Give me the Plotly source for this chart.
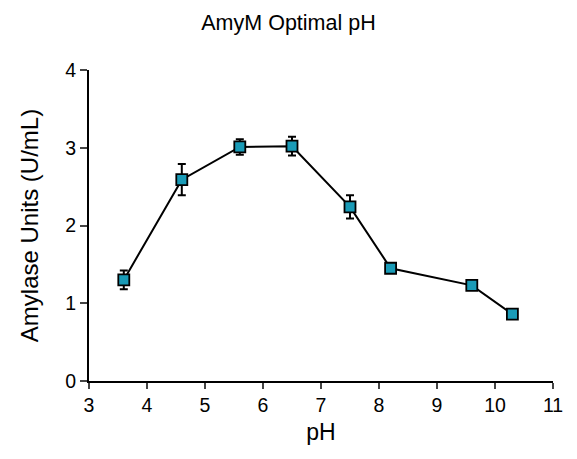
import plotly.graph_objects as go

ph = [3.6, 4.6, 5.6, 6.5, 7.5, 8.2, 9.6, 10.3]
units = [1.30, 2.59, 3.01, 3.02, 2.24, 1.45, 1.23, 0.86]
err = [0.12, 0.20, 0.10, 0.12, 0.15, 0.03, 0.03, 0.05]
x_ticks = [3, 4, 5, 6, 7, 8, 9, 10, 11]
y_ticks = [0, 1, 2, 3, 4]

fig = go.Figure(go.Scatter(
    x=ph, y=units, mode="lines+markers",
    line=dict(color="black", width=2),
    marker=dict(symbol="square", size=11, color="#1A9BB7",
                line=dict(color="black", width=1.8)),
    error_y=dict(type="data", array=err, visible=True, color="black",
                 thickness=2, width=4),
))

font = "Liberation Sans, Arial, sans-serif"
fig.update_layout(
    width=577, height=459,
    margin=dict(l=89, r=24, t=70, b=78),
    paper_bgcolor="white", plot_bgcolor="white",
    font=dict(family=font, color="black"),
    showlegend=False,
    title=dict(text="AmyM Optimal pH", x=0.5, xanchor="center",
               y=0.952, yanchor="middle", font=dict(size=21.5)),
)
fig.update_xaxes(
    range=[3, 11], tickvals=x_ticks, ticks="outside", ticklen=6, tickwidth=2,
    showline=True, linecolor="black", linewidth=2, showgrid=False, zeroline=False,
    tickfont=dict(size=19.5), title=dict(text="pH", font=dict(size=23), standoff=8),
)
fig.update_yaxes(
    range=[0, 4], tickvals=y_ticks, ticks="outside", ticklen=7, tickwidth=2,
    showline=True, linecolor="black", linewidth=2, showgrid=False, zeroline=False,
    tickfont=dict(size=19.5), title=dict(text="Amylase Units (U/mL)", font=dict(size=24), standoff=20),
)

fig.write_html("out.html")
